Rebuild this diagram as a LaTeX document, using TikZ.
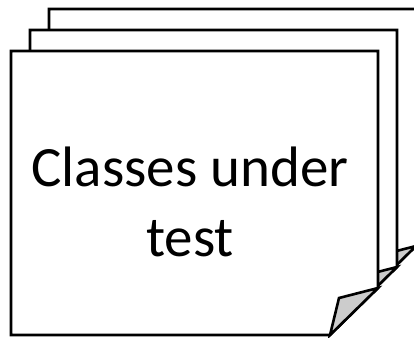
\documentclass[tikz,border=0pt]{standalone}
\usepackage{fontspec}
\setmainfont{Carlito}
\begin{document}
\begin{tikzpicture}[x=1pt,y=-1pt,
  page/.style={draw=black,fill=white,line width=2.6pt,line join=miter},
  fold/.style={draw=black,fill=black!20,line width=2.6pt,line join=miter}]
\useasboundingbox (0,0) rectangle (414,337);
\foreach \i in {2,1,0}{
  \begin{scope}[shift={(19*\i,-21*\i)}]
    \draw[page] (11,51) -- (378,51) -- (378,288) -- (330,335) -- (11,335) -- cycle;
    \draw[fold] (330,335) -- (339,298) -- (378,288) -- cycle;
  \end{scope}
}
\node[align=center,font=\fontsize{57}{70}\selectfont,inner sep=0pt] (label) at (190,202) {Classes under\\test};
\end{tikzpicture}
\end{document}
